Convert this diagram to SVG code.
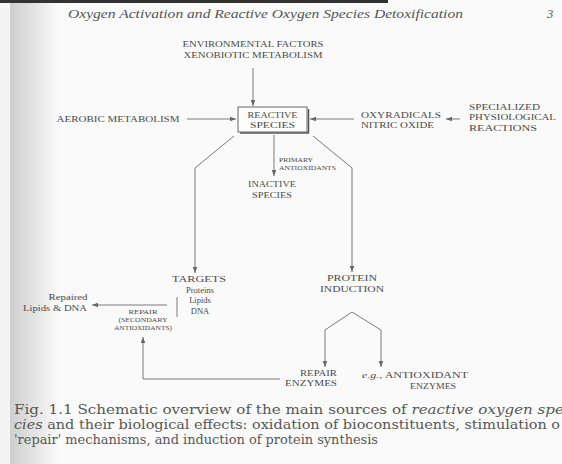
<svg xmlns="http://www.w3.org/2000/svg" width="562" height="464" viewBox="0 0 562 464">
  <style>
    .lbl { font-family: "Liberation Serif", serif; font-size: 8.5px; fill: #4a4a4a; }
    .c { text-anchor: middle; }
    .s { text-anchor: start; }
    .e { text-anchor: end; }
    .sm { font-family: "Liberation Serif", serif; font-size: 6.5px; fill: #4a4a4a; }
    .ln { fill: none; stroke: #7a7a7a; stroke-width: 1; }
    .hdr { font-family: "Liberation Serif", serif; font-style: italic; font-size: 12.5px; fill: #555; }
    .cap { font-family: "DejaVu Serif", serif; font-size: 12.5px; fill: #575757; }
  </style>
  <defs>
    <marker id="ah" viewBox="0 0 8 6" refX="8" refY="3" markerWidth="6" markerHeight="4.5" orient="auto">
      <path d="M0,0 L8,3 L0,6 Z" fill="#666"/>
    </marker>
    <linearGradient id="edge" x1="0" x2="1" y1="0" y2="0">
      <stop offset="0" stop-color="#cfcfcf"/>
      <stop offset="1" stop-color="#fafafa"/>
    </linearGradient>
  </defs>

  <!-- page -->
  <rect x="0" y="0" width="562" height="464" fill="#fafafa"/>
  <rect x="10" y="0" width="50" height="464" fill="url(#edge)"/>
  <rect x="0" y="0" width="10" height="464" fill="#f4f4f4"/>
  <rect x="0" y="0" width="388" height="3" fill="#333"/>

  <!-- running head -->
  <text class="hdr" x="68" y="18" textLength="395" lengthAdjust="spacingAndGlyphs">Oxygen Activation and Reactive Oxygen Species Detoxification</text>
  <text class="hdr" x="547" y="18" font-style="normal">3</text>

  <!-- connectors -->
  <g id="connectors">
    <line class="ln" x1="253" y1="68" x2="253" y2="106" marker-end="url(#ah)"/>
    <line class="ln" x1="187" y1="119" x2="236" y2="119" marker-end="url(#ah)"/>
    <line class="ln" x1="354" y1="119" x2="310" y2="119" marker-end="url(#ah)"/>
    <line class="ln" x1="460" y1="119" x2="446" y2="119" marker-end="url(#ah)"/>
    <line class="ln" x1="274" y1="135" x2="274" y2="176" marker-end="url(#ah)"/>
    <polyline class="ln" points="234,136 195,168 195,273" marker-end="url(#ah)"/>
    <polyline class="ln" points="313,136 352,168 352,272" marker-end="url(#ah)"/>
    <line class="ln" x1="177" y1="297" x2="177" y2="317"/>
    <line class="ln" x1="167" y1="305" x2="92" y2="305" marker-end="url(#ah)"/>
    <polyline class="ln" points="352,312 381,330 381,367" marker-end="url(#ah)"/>
    <polyline class="ln" points="352,312 325,330 325,367" marker-end="url(#ah)"/>
    <polyline class="ln" points="280,379 143,379 143,337" marker-end="url(#ah)"/>
  </g>

  <g id="environmental">
    <text class="lbl c" x="253" y="47" textLength="141" lengthAdjust="spacingAndGlyphs">ENVIRONMENTAL FACTORS</text>
    <text class="lbl c" x="253" y="58" textLength="139" lengthAdjust="spacingAndGlyphs">XENOBIOTIC METABOLISM</text>
  </g>

  <g id="aerobic">
    <text class="lbl c" x="118" y="122" textLength="123" lengthAdjust="spacingAndGlyphs">AEROBIC METABOLISM</text>
  </g>

  <g id="reactive-species">
    <line x1="240" y1="133" x2="309" y2="133" stroke="#555" stroke-width="1.5"/>
    <line x1="308.5" y1="109" x2="308.5" y2="133" stroke="#555" stroke-width="1.5"/>
    <rect x="238" y="107" width="69" height="25" fill="#fdfdfd" stroke="#666" stroke-width="1"/>
    <text class="lbl c" x="272.5" y="118" textLength="50" lengthAdjust="spacingAndGlyphs">REACTIVE</text>
    <text class="lbl c" x="272.5" y="128" textLength="45" lengthAdjust="spacingAndGlyphs">SPECIES</text>
  </g>

  <g id="oxyradicals">
    <text class="lbl s" x="361" y="118" textLength="80" lengthAdjust="spacingAndGlyphs">OXYRADICALS</text>
    <text class="lbl s" x="361" y="128" textLength="73" lengthAdjust="spacingAndGlyphs">NITRIC OXIDE</text>
  </g>

  <g id="specialized">
    <text class="lbl s" x="469" y="110" textLength="71" lengthAdjust="spacingAndGlyphs">SPECIALIZED</text>
    <text class="lbl s" x="469" y="120" textLength="87" lengthAdjust="spacingAndGlyphs">PHYSIOLOGICAL</text>
    <text class="lbl s" x="469" y="131" textLength="68" lengthAdjust="spacingAndGlyphs">REACTIONS</text>
  </g>

  <g id="primary-antioxidants">
    <text class="sm s" x="279" y="162" textLength="34" lengthAdjust="spacingAndGlyphs">PRIMARY</text>
    <text class="sm s" x="279" y="170" textLength="57" lengthAdjust="spacingAndGlyphs">ANTIOXIDANTS</text>
  </g>

  <g id="inactive-species">
    <text class="lbl c" x="272" y="187" textLength="48" lengthAdjust="spacingAndGlyphs">INACTIVE</text>
    <text class="lbl c" x="272" y="198" textLength="40" lengthAdjust="spacingAndGlyphs">SPECIES</text>
  </g>

  <g id="targets">
    <text class="lbl c" x="199" y="282" textLength="54" lengthAdjust="spacingAndGlyphs">TARGETS</text>
    <text class="lbl c" x="200" y="293">Proteins</text>
    <text class="lbl c" x="200" y="303">Lipids</text>
    <text class="lbl c" x="200" y="314">DNA</text>
  </g>

  <g id="repaired">
    <text class="lbl c" x="68" y="300" textLength="39" lengthAdjust="spacingAndGlyphs">Repaired</text>
    <text class="lbl c" x="55" y="311" textLength="64" lengthAdjust="spacingAndGlyphs">Lipids &amp; DNA</text>
  </g>

  <g id="repair-secondary">
    <text class="sm c" x="143" y="314" textLength="29" lengthAdjust="spacingAndGlyphs">REPAIR</text>
    <text class="sm c" x="143" y="322" textLength="49" lengthAdjust="spacingAndGlyphs">(SECONDARY</text>
    <text class="sm c" x="143" y="330" textLength="58" lengthAdjust="spacingAndGlyphs">ANTIOXIDANTS)</text>
  </g>

  <g id="protein-induction">
    <text class="lbl c" x="352" y="281" textLength="50" lengthAdjust="spacingAndGlyphs">PROTEIN</text>
    <text class="lbl c" x="352" y="292" textLength="64" lengthAdjust="spacingAndGlyphs">INDUCTION</text>
  </g>

  <g id="repair-enzymes">
    <text class="lbl e" x="337" y="376" textLength="37" lengthAdjust="spacingAndGlyphs">REPAIR</text>
    <text class="lbl e" x="337" y="386" textLength="52" lengthAdjust="spacingAndGlyphs">ENZYMES</text>
  </g>

  <g id="antioxidant-enzymes">
    <text class="lbl s" x="362" y="378" textLength="106" lengthAdjust="spacingAndGlyphs"><tspan font-style="italic">e.g.</tspan>, ANTIOXIDANT</text>
    <text class="lbl c" x="433" y="389" textLength="46" lengthAdjust="spacingAndGlyphs">ENZYMES</text>
  </g>

  <!-- caption -->
  <text class="cap" x="14" y="414" textLength="550" lengthAdjust="spacingAndGlyphs">Fig. 1.1   Schematic overview of the main sources of <tspan font-style="italic">reactive oxygen spe</tspan></text>
  <text class="cap" x="14" y="429" textLength="546" lengthAdjust="spacingAndGlyphs"><tspan font-style="italic">cies</tspan> and their biological effects: oxidation of bioconstituents, stimulation o</text>
  <text class="cap" x="14" y="444" textLength="364" lengthAdjust="spacingAndGlyphs">'repair' mechanisms, and induction of protein synthesis</text>
</svg>
